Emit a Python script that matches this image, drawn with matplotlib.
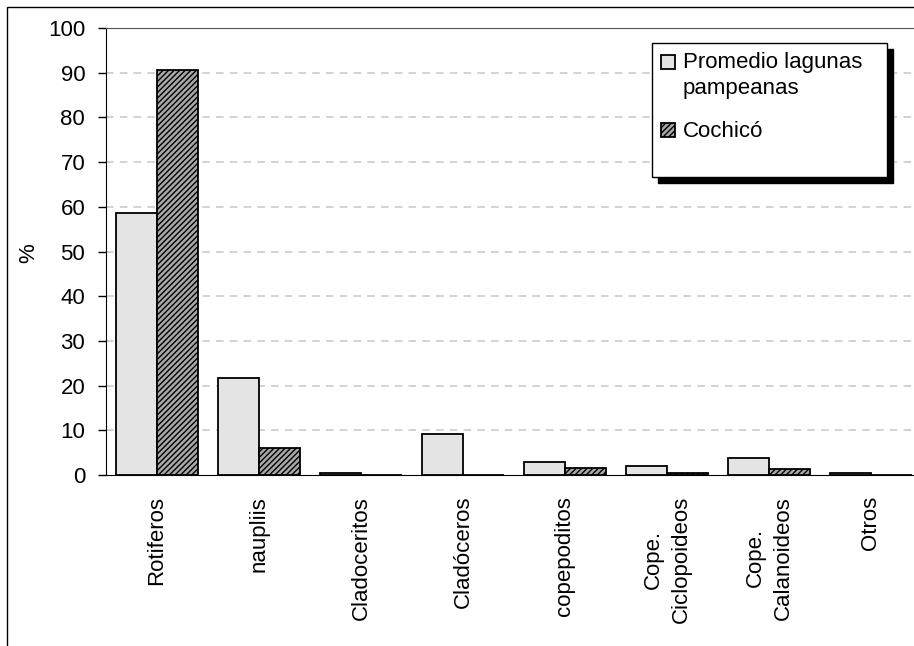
import numpy as np
import matplotlib.pyplot as plt
from matplotlib.patches import Rectangle

plt.rcParams['font.family'] = ['Liberation Sans', 'DejaVu Sans']
plt.rcParams['hatch.linewidth'] = 1.0

# Composicion del zooplancton (%)
categorias = ['Rotiferos', 'naupliis', 'Cladoceritos', 'Cladóceros', 'copepoditos',
              'Cope.\nCiclopoideos', 'Cope.\nCalanoideos', 'Otros']
promedio = [58.7, 21.7, 0.5, 9.1, 3.0, 2.1, 3.9, 0.5]
cochico = [90.5, 6.0, 0.0, 0.0, 1.6, 0.5, 1.3, 0.0]
yticks = list(range(0, 101, 10))

fig = plt.figure(figsize=(9.14, 6.46), dpi=100)
W, H = 914.0, 646.0
ax = fig.add_axes([106 / W, 1 - 475 / H, (922 - 106) / W, (475 - 28) / H])

x = np.arange(len(categorias))
w = 0.40
ax.bar(x - w / 2, promedio, w, color='#e4e4e4', edgecolor='black', linewidth=1.3, zorder=3)
ax.bar(x + w / 2, cochico, w, color='#a8a8a8', edgecolor='black', hatch='//////',
       linewidth=1.3, zorder=3)

ax.set_xlim(-0.5, len(categorias) - 0.5)
ax.set_ylim(0, 100)
ax.set_yticks(yticks)
ax.set_xticks(x)
ax.set_xticklabels(categorias, rotation=90, fontsize=16, multialignment='center',
                   linespacing=1.45)
ax.tick_params(axis='x', length=0, pad=15)
ax.tick_params(axis='y', direction='out', length=6, width=1, pad=9, labelsize=16)

for v in yticks[1:-1]:
    ax.axhline(v, color='#c8c8c8', linestyle=(0, (5, 4)), linewidth=1.1, zorder=1)

ax.spines['right'].set_visible(False)
ax.spines['top'].set_color('#505050')
ax.spines['left'].set_color('black')
ax.spines['bottom'].set_color('black')

fig.text(29 / W, 1 - 253 / H, '%', rotation=90, ha='center', va='center', fontsize=16)

# marco exterior
fig.patches.append(Rectangle((7 / W, -0.2), 1.2, 1.2 - 7 / H, transform=fig.transFigure,
                             fill=False, edgecolor='black', linewidth=1.0))

# leyenda con sombra
lx, ly, lw, lh = 652, 43, 235, 134
fig.patches.append(Rectangle(((lx + 6) / W, 1 - (ly + lh + 6) / H), lw / W, lh / H,
                             transform=fig.transFigure, facecolor='black', edgecolor='black',
                             zorder=10))
fig.patches.append(Rectangle((lx / W, 1 - (ly + lh) / H), lw / W, lh / H,
                             transform=fig.transFigure, facecolor='white', edgecolor='black',
                             linewidth=1.0, zorder=11))
fig.patches.append(Rectangle((661 / W, 1 - 69 / H), 14 / W, 14 / H, transform=fig.transFigure,
                             facecolor='#e4e4e4', edgecolor='black', linewidth=1.3, zorder=12))
fig.patches.append(Rectangle((661 / W, 1 - 137 / H), 14 / W, 14 / H, transform=fig.transFigure,
                             facecolor='#a8a8a8', edgecolor='black', hatch='//////',
                             linewidth=1.3, zorder=12))
fig.text(683 / W, 1 - 52 / H, 'Promedio lagunas\npampeanas', fontsize=16, ha='left',
         va='top', linespacing=1.3, zorder=13)
fig.text(683 / W, 1 - 137 / H, 'Cochicó', fontsize=16, ha='left', va='baseline', zorder=13)

fig.savefig('out.png', dpi=100)
